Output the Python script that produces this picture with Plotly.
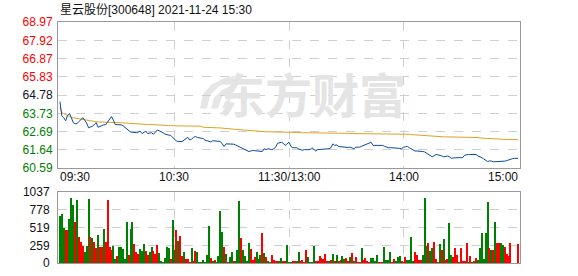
import plotly.graph_objects as go

title_text = "星云股份[300648] 2021-11-24 15:30"
pre_close = 64.78
price_ticks = [60.59, 61.64, 62.69, 63.73, 64.78, 65.83, 66.87, 67.92, 68.97]
pct_labels = ["6.46%", "4.85%", "3.23%", "1.62%", "0.00%", "1.62%", "3.23%", "4.85%", "6.46%"]
vol_ticks = [0, 259, 519, 778, 1037]
time_labels = ["09:30", "10:30", "11:30/13:00", "14:00", "15:00"]
time_label_idx = [0, 60, 120, 180, 240]
grid_idx = [60, 120, 180]

price = [
    64.41, 63.60, 63.49, 63.31, 63.62, 63.73, 63.49, 63.20, 63.15, 63.15,
    63.27, 63.40, 63.49, 63.35, 63.18, 62.91, 62.95, 63.00, 63.09, 63.20,
    62.94, 63.00, 63.05, 63.08, 63.09, 63.27, 63.40, 63.55, 63.35, 63.09,
    63.09, 63.10, 63.08, 63.03, 62.95, 62.88, 62.78, 62.67, 62.65, 62.63,
    62.63, 62.66, 62.72, 62.58, 62.63, 62.72, 62.58, 62.60, 62.63, 62.54,
    62.65, 62.78, 62.74, 62.70, 62.63, 62.55, 62.50, 62.49, 62.48, 62.36,
    62.21, 62.15, 62.13, 62.12, 62.12, 62.21, 62.28, 62.36, 62.21, 62.26,
    62.36, 62.41, 62.36, 62.32, 62.31, 62.30, 62.20, 62.17, 62.13, 62.10,
    62.17, 62.17, 62.17, 62.16, 62.13, 61.99, 61.84, 61.99, 61.99, 61.99,
    61.99, 61.97, 61.93, 61.88, 61.80, 61.76, 61.71, 61.66, 61.62, 61.55,
    61.58, 61.62, 61.60, 61.58, 61.55, 61.53, 61.55, 61.71, 61.66, 61.71,
    61.68, 61.66, 61.71, 61.80, 62.02, 62.05, 62.08, 62.02, 61.90, 61.99,
    62.08, 61.84, 61.77, 61.77, 61.77, 61.70, 61.66, 61.62, 61.66, 61.67,
    61.66, 61.66, 61.77, 61.66, 61.58, 61.66, 61.67, 61.68, 61.69, 61.71,
    61.71, 61.71, 61.77, 61.99, 61.90, 61.93, 61.84, 61.82, 61.80, 61.82,
    61.77, 61.78, 61.80, 61.75, 61.71, 61.80, 61.80, 61.80, 61.85, 61.90,
    61.95, 61.98, 62.02, 62.08, 61.90, 61.90, 61.90, 61.90, 61.90, 61.90,
    61.85, 61.80, 61.77, 61.77, 61.77, 61.77, 61.77, 61.75, 61.73, 61.71,
    61.80, 61.82, 61.84, 61.77, 61.70, 61.62, 61.58, 61.58, 61.58, 61.58,
    61.55, 61.53, 61.45, 61.38, 61.33, 61.25, 61.31, 61.38, 61.36, 61.34,
    61.30, 61.25, 61.27, 61.29, 61.25, 61.16, 61.18, 61.20, 61.20, 61.20,
    61.20, 61.20, 61.34, 61.38, 61.38, 61.38, 61.38, 61.38, 61.38, 61.29,
    61.25, 61.20, 61.12, 61.07, 60.98, 61.01, 61.01, 60.96, 60.96, 60.96,
    60.96, 60.96, 60.96, 61.00, 61.03, 61.08, 61.12, 61.14, 61.16, 61.16, 61.16,
]

avg_price = [
    64.10, 63.80, 63.72, 63.65, 63.60, 63.56, 63.50, 63.48, 63.47, 63.46,
    63.44, 63.40, 63.37, 63.36, 63.33, 63.31, 63.30, 63.28, 63.26, 63.25,
    63.24, 63.24, 63.24, 63.24, 63.24, 63.24, 63.24, 63.24, 63.24, 63.24,
    63.22, 63.21, 63.20, 63.19, 63.18, 63.17, 63.16, 63.16, 63.15, 63.15,
    63.15, 63.14, 63.13, 63.12, 63.12, 63.11, 63.10, 63.10, 63.09, 63.09,
    63.08, 63.08, 63.07, 63.06, 63.05, 63.05, 63.04, 63.04, 63.03, 63.03,
    63.02, 63.01, 63.00, 63.00, 63.00, 63.00, 63.00, 63.00, 63.00, 63.00,
    63.00, 63.00, 63.00, 63.00, 63.00, 62.94, 62.93, 62.92, 62.91, 62.91,
    62.91, 62.91, 62.91, 62.91, 62.91, 62.90, 62.87, 62.87, 62.86, 62.85,
    62.84, 62.83, 62.81, 62.80, 62.79, 62.77, 62.76, 62.75, 62.74, 62.73,
    62.72, 62.72, 62.72, 62.72, 62.72, 62.71, 62.70, 62.69, 62.68, 62.68,
    62.68, 62.68, 62.67, 62.67, 62.67, 62.67, 62.67, 62.67, 62.66, 62.66,
    62.65, 62.65, 62.65, 62.65, 62.65, 62.64, 62.64, 62.63, 62.63, 62.62,
    62.62, 62.62, 62.61, 62.61, 62.61, 62.61, 62.61, 62.61, 62.61, 62.61,
    62.61, 62.61, 62.61, 62.61, 62.60, 62.60, 62.60, 62.60, 62.60, 62.59,
    62.59, 62.59, 62.58, 62.58, 62.58, 62.58, 62.57, 62.56, 62.55, 62.54,
    62.54, 62.54, 62.54, 62.54, 62.54, 62.54, 62.54, 62.54, 62.54, 62.54,
    62.54, 62.54, 62.54, 62.54, 62.54, 62.54, 62.54, 62.54, 62.54, 62.54,
    62.54, 62.54, 62.54, 62.54, 62.52, 62.51, 62.50, 62.49, 62.48, 62.47,
    62.46, 62.46, 62.45, 62.45, 62.45, 62.44, 62.43, 62.42, 62.41, 62.40,
    62.40, 62.39, 62.39, 62.39, 62.38, 62.38, 62.37, 62.37, 62.37, 62.36,
    62.36, 62.36, 62.36, 62.36, 62.36, 62.36, 62.36, 62.36, 62.36, 62.35,
    62.33, 62.31, 62.30, 62.30, 62.30, 62.29, 62.28, 62.27, 62.26, 62.26,
    62.25, 62.25, 62.25, 62.24, 62.24, 62.24, 62.23, 62.23, 62.23, 62.23, 62.23,
]

volume = [
    682, 720, 504, 480, 480, 648, 950, 854, 595, 922,
    374, 302, 250, 163, 250, 936, 379, 360, 302, 216,
    403, 235, 235, 494, 302, 922, 230, 192, 250, 62,
    101, 235, 235, 206, 60,
    605, 120, 494, 605, 278, 163,
    134, 206, 178, 278, 178, 120, 163, 235, 178, 134,
    264, 149, 19, 12, 77, 235, 221, 62, 624, 192,
    480, 322, 394, 106, 163, 62, 62, 12, 221, 34,
    178, 163, 12, 12, 48, 12, 120, 538,
    77, 19, 48, 12, 106, 758, 451, 235, 134, 12,
    91, 163, 19, 19, 192, 912, 365, 192, 106, 34,
    293, 206, 48, 91, 163, 62, 120, 437, 149, 91,
    34, 12, 120, 48, 19, 34, 19, 77, 19, 34,
    264, 12, 12, 19, 34, 34, 163, 34, 48, 12,
    192, 91, 12, 12, 250, 19, 19, 106, 77, 62,
    134, 34, 19, 48, 134, 34, 120, 34, 48, 106,
    62, 77, 19, 91, 149, 34, 91, 12, 12, 221,
    48, 77, 19, 12, 77, 77, 34, 120, 12, 12,
    12, 235, 48, 48, 163, 12, 62, 19, 91, 106,
    20,
    12, 91, 48, 48, 379, 34, 163, 120, 48, 48,
    120, 955, 250, 293, 178, 221, 307, 62, 12, 278,
    192, 350, 48, 62, 581, 120, 91, 221, 120, 12,
    221, 34, 34, 293, 12, 106, 12, 34, 77, 48,
    221, 437, 62, 437, 898, 221, 192, 192, 595, 293,
    293, 293, 264, 235, 134, 106, 293,
    0, 0, 0,
    278,
]

direction = list(
    "GGGRRGGGRG" "RRRGGGRGRR" "GRRGRRRRGG" "RGGG" "G"
    "GRGGRR" "RGGGRRGGRR" "RGGGGGGRGG" "RGRRGRRRGR" "RGGGGGGG"
    "RGRGGGGRGR" "GGRGGGRGGG" "GRRRGGGRGR" "GGRRRRGGRR"
    "GGGRRGGRRR" "RGGGGRRRRR" "RRGRGRGRRG" "GRRGRGRRRG"
    "RRRRGGGGRR" "RGGGGRRGGG" "R"
    "RRGGGGRRRR" "GGGRGGRRGG" "RGRRGGRRRG" "RRRRGRRGRG"
    "GGGGGRGRGR" "RGGRRRR" "GGG" "R"
)

n = len(price)
idx = list(range(n))
bar_colors = ["#ff0000" if d == "R" else "#008000" for d in direction]

RED, GREEN, DARK = "#ff0000", "#008000", "#101030"


def tick_color(v):
    if v > pre_close:
        return RED
    if v < pre_close:
        return GREEN
    return DARK


left_text = [f"<span style='color:{tick_color(v)}'>{v:.2f}</span>" for v in price_ticks]
right_text = [f"<span style='color:{tick_color(v)}'>{t}</span>" for v, t in zip(price_ticks, pct_labels)]

fig = go.Figure()
fig.add_trace(go.Scatter(x=idx, y=avg_price, mode="lines", line=dict(color="#e0a21e", width=1),
                         xaxis="x", yaxis="y", hoverinfo="skip"))
fig.add_trace(go.Scatter(x=idx, y=price, mode="lines", line=dict(color="#0b4a9e", width=1),
                         xaxis="x", yaxis="y", hoverinfo="skip"))
fig.add_trace(go.Bar(x=idx[:len(volume)], y=volume, marker=dict(color=bar_colors[:len(volume)], line=dict(width=0)),
                     width=0.5, xaxis="x2", yaxis="y2"))

font = "Liberation Sans, Arial, Noto Sans CJK SC, sans-serif"
grid = dict(showgrid=True, gridcolor="#cfcfcf", griddash="dash", gridwidth=1, zeroline=False,
            showline=True, linecolor="#999999", linewidth=1, mirror=True)

fig.update_layout(
    width=578, height=276,
    margin=dict(l=58, r=58, t=22, b=6),
    paper_bgcolor="white", plot_bgcolor="white",
    showlegend=False,
    bargap=0,
    font=dict(family=font, size=12, color="#111111"),
    xaxis=dict(domain=[0, 1], range=[-1, 241], anchor="y", tickvals=grid_idx, showticklabels=False, ticks="", **grid),
    xaxis2=dict(domain=[0, 1], range=[-1, 241], anchor="y2", tickvals=grid_idx, showticklabels=False, ticks="", **grid),
    yaxis=dict(domain=[0.393, 1], range=[price_ticks[0], price_ticks[-1]], tickvals=price_ticks, ticktext=left_text,
               ticks="", ticklabelstandoff=2, **grid),
    yaxis3=dict(overlaying="y", side="right", anchor="x", range=[price_ticks[0], price_ticks[-1]],
                tickvals=price_ticks, ticktext=right_text, showgrid=False, zeroline=False, ticks="",
                ticklabelstandoff=2),
    yaxis2=dict(domain=[0, 0.294], range=[0, vol_ticks[-1]], tickvals=vol_ticks, ticks="",
                ticklabelstandoff=5, **grid),
)

# watermark logo (decoration), pixel -> paper helper
W_PLOT, H_PLOT, L_M, T_M = 462, 248, 58, 22


def px(xp, yp):
    return (xp - L_M) / W_PLOT, 1 - (yp - T_M) / H_PLOT


def path(points):
    parts = []
    for i, (a, b) in enumerate(points):
        x, y = px(a, b)
        parts.append(("M" if i == 0 else "L") + f"{x:.4f},{y:.4f}")
    return " ".join(parts) + " Z"


logo_strokes = [
    [(200, 111), (203, 96), (212, 86), (226, 79), (236, 77), (231, 82), (219, 88), (210, 97), (207, 111)],
    [(211, 111), (214, 100), (222, 92), (234, 86), (230, 92), (222, 99), (218, 111)],
    [(222, 111), (225, 104), (232, 98), (229, 105), (228, 111)],
]
shapes = [dict(type="path", xref="paper", yref="paper", path=path(s), fillcolor="#e6e6e6",
               line=dict(width=0), layer="below") for s in logo_strokes]
fig.update_layout(shapes=shapes)

wm_x, wm_y = px(312, 95)
annotations = [
    dict(text=title_text, xref="paper", yref="paper", x=0, y=1.05, xanchor="left", yanchor="middle",
         showarrow=False, font=dict(size=12, color="#111111")),
    dict(text="<b>东方财富</b>", xref="paper", yref="paper", x=wm_x, y=wm_y, xanchor="center", yanchor="middle",
         showarrow=False, font=dict(size=47, color="#e4e4e4", family="Noto Sans CJK SC")),
]
for lab, pos in zip(time_labels, time_label_idx):
    anchor = "left" if pos == time_label_idx[0] else ("right" if pos == time_label_idx[-1] else "center")
    xpos = pos - 1 if anchor == "left" else (pos + 1 if anchor == "right" else pos)
    annotations.append(dict(text=lab, xref="x", yref="paper", x=xpos, y=0.355, xanchor=anchor, yanchor="middle",
                            showarrow=False, font=dict(size=12, color="#111111")))
fig.update_layout(annotations=annotations)

fig.write_html("out.html")
